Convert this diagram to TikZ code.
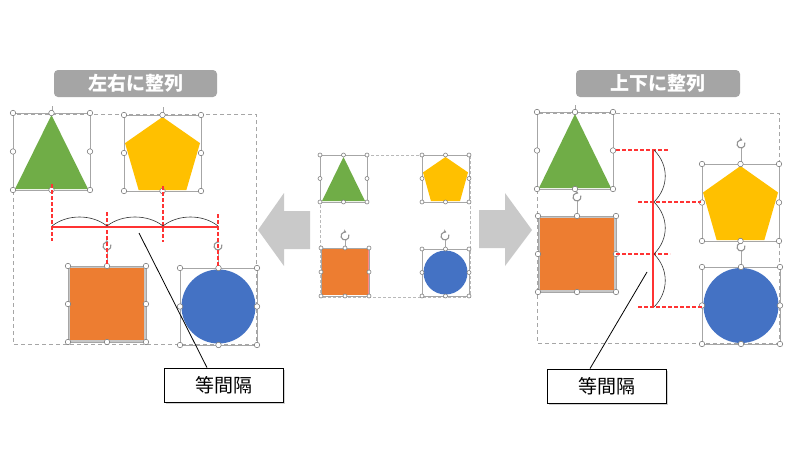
\documentclass[tikz,border=0pt]{standalone}
\usepackage{fontspec}
\newfontfamily\cjk{Noto Sans CJK JP}
\usetikzlibrary{arrows.meta,shadows,calc}
\definecolor{cgreen}{HTML}{70AD47}
\definecolor{cyellow}{HTML}{FFC000}
\definecolor{corange}{HTML}{ED7D31}
\definecolor{cblue}{HTML}{4472C4}
\definecolor{ctitle}{HTML}{A5A5A5}
\definecolor{carrow}{HTML}{C9C9C9}
\definecolor{csel}{HTML}{A6A6A6}
\definecolor{cred}{HTML}{FF3333}
\tikzset{
  selline/.style={draw=csel, line width=0.7pt},
  handle/.style={circle, draw=gray, fill=white, line width=0.6pt, inner sep=0pt},
  groupbox/.style={draw=gray!70, dashed, dash pattern=on 4pt off 3pt, line width=0.7pt},
  reddash/.style={draw=cred, line width=1.2pt, dash pattern=on 4pt off 2pt},
  redline/.style={draw=cred, line width=1.6pt},
  bracearc/.style={draw=black!80, line width=0.6pt},
  rotsym/.style={draw=gray!85, line width=1.1pt, -{Stealth[length=3pt,width=4pt]}},
  titlebox/.style={fill=ctitle, rounded corners=4pt, text=white, font=\cjk\bfseries\fontsize{19}{21}\selectfont, inner sep=0pt},
  callout/.style={draw=black, line width=0.8pt, fill=white, font=\cjk\fontsize{19}{21}\selectfont, inner sep=0pt, drop shadow={shadow xshift=1.5pt, shadow yshift=-1.5pt, fill=black!35}},
  blockarrow/.style={fill=carrow}
}
\newcommand\selbox[5]{%
  \pgfmathsetmacro\smx{(#1+#3)/2}\pgfmathsetmacro\smy{(#2+#4)/2}%
  \draw[selline] (#1,#2) rectangle (#3,#4);
  \foreach \px/\py in {#1/#2,\smx/#2,#3/#2,#1/\smy,#3/\smy,#1/#4,\smx/#4,#3/#4}
    \node[handle,minimum size=#5] at (\px,\py) {};
}
\newcommand\trishape[4]{\fill[cgreen] ({(#1+#3)/2},{#2+2}) -- ({#3-2},{#4-1}) -- ({#1+2},{#4-1}) -- cycle;}
\newcommand\pentshape[4]{\fill[cyellow] ({(#1+#3)/2},{#2+2}) -- ({#3-1},{#2+0.37*(#4-#2)}) -- ({#1+0.81*(#3-#1)},{#4-1}) -- ({#1+0.19*(#3-#1)},{#4-1}) -- ({#1+1},{#2+0.37*(#4-#2)}) -- cycle;}
\newcommand\sqshape[4]{\fill[corange, draw=gray!45, line width=1.2pt] ({#1+1},{#2+1}) rectangle ({#3-1},{#4-1});}
\newcommand\circshape[4]{\fill[cblue] ({(#1+#3)/2},{(#2+#4)/2}) circle[radius={(#3-#1)/2-1.5}];}
\newcommand\roticon[2]{\draw[rotsym] ([shift={(-20:4)}]#1,#2) arc[start angle=-20,end angle=290,radius=4];}
\begin{document}
\begin{tikzpicture}[x=1pt,y=-1pt]
\useasboundingbox (0,0) rectangle (800,450);
\fill[white] (0,0) rectangle (800,450);

% ---------- titles
\node[titlebox, minimum width=163pt, minimum height=27pt] (tL) at (135.5,83.5) {左右に整列};
\node[titlebox, minimum width=164pt, minimum height=27pt] (tR) at (658,83.5) {上下に整列};

% ---------- block arrows
\fill[blockarrow] (258,230) -- (284,193) -- (284,211) -- (310,211) -- (310,249) -- (284,249) -- (284,266) -- cycle;
\fill[blockarrow] (532,230) -- (505,193) -- (505,210) -- (479,210) -- (479,248) -- (505,248) -- (505,266) -- cycle;

% ================= LEFT PANEL
\draw[groupbox] (13,114) rectangle (256,344);
\draw[csel, line width=0.7pt] (52,106) -- (52,113);
\draw[csel, line width=0.7pt] (163,107) -- (163,115);
\trishape{13}{113}{90}{190}
\pentshape{124}{115}{201}{191}
\sqshape{68}{266}{146}{342}
\circshape{180}{268}{257}{345}
\draw[csel, line width=0.7pt] (107,250) -- (107,266);
\draw[csel, line width=0.7pt] (218,250) -- (218,268);
\roticon{107}{246}
\roticon{218}{246}
\selbox{13}{113}{90}{190}{5.5pt}
\selbox{124}{115}{201}{191}{5.5pt}
\selbox{68}{266}{146}{342}{5.5pt}
\selbox{180}{268}{257}{345}{5.5pt}
\draw[reddash] (52,184) -- (52,241);
\draw[reddash] (163,186) -- (163,242);
\draw[reddash] (107,212) -- (107,264);
\draw[reddash] (218,214) -- (218,266);
\draw[redline] (52,227) -- (218,227);
\draw[bracearc] (52,226) .. controls (67,214) and (92,214) .. (107,226);
\draw[bracearc] (107,226) .. controls (122,214) and (148,214) .. (163,226);
\draw[bracearc] (163,226) .. controls (178,214) and (203,214) .. (218,226);

\coordinate (pL) at (139,233);
\node[callout, minimum width=119pt, minimum height=34pt] (cL) at (223.5,385) {等間隔};
\draw[black, line width=0.8pt] (pL) -- (cL.north -| 207,0);

% ================= MIDDLE PANEL
\draw[groupbox, draw=gray!55, dash pattern=on 3pt off 2pt] (320,155) rectangle (470,297);
\trishape{320}{155}{367}{202}
\pentshape{422}{155}{469}{202}
\fill[corange] (322,249) rectangle (368,295);
\draw[cred!60, line width=0.6pt] (368.5,249) -- (368.5,295);
\circshape{422}{249}{469}{296}
\draw[csel, line width=0.6pt] (345,240) -- (345,248);
\draw[csel, line width=0.6pt] (445,240) -- (445,249);
\roticon{345}{236}
\roticon{445}{236}
\selbox{320}{155}{367}{202}{4pt}
\selbox{422}{155}{469}{202}{4pt}
\selbox{321}{248}{369}{296}{4pt}
\selbox{422}{249}{469}{296}{4pt}

% ================= RIGHT PANEL
\draw[groupbox] (537,113) rectangle (779,343);
\draw[csel, line width=0.7pt] (575,105) -- (575,112);
\trishape{537}{112}{613}{189}
\sqshape{538}{216}{616}{292}
\pentshape{702}{164}{779}{241}
\circshape{702}{267}{780}{344}
\draw[csel, line width=0.7pt] (577,201) -- (577,216);
\draw[csel, line width=0.7pt] (741,148) -- (741,164);
\draw[csel, line width=0.7pt] (741,251) -- (741,267);
\roticon{577}{197}
\roticon{741}{144}
\roticon{741}{247}
\selbox{537}{112}{613}{189}{5.5pt}
\selbox{538}{216}{616}{292}{5.5pt}
\selbox{702}{164}{779}{241}{5.5pt}
\selbox{702}{267}{780}{344}{5.5pt}
\draw[reddash] (616,150) -- (668,150);
\draw[reddash] (638,202) -- (701,202);
\draw[reddash] (616,254) -- (670,254);
\draw[reddash] (638,307) -- (702,307);
\draw[redline] (653,150) -- (653,307);
\draw[bracearc] (654,150) .. controls (669,165) and (669,187) .. (654,202);
\draw[bracearc] (654,202) .. controls (669,217) and (669,239) .. (654,254);
\draw[bracearc] (654,254) .. controls (669,269) and (669,292) .. (654,307);

\coordinate (pR) at (647,272);
\node[callout, minimum width=119pt, minimum height=34pt] (cR) at (606.5,386) {等間隔};
\draw[black, line width=0.8pt] (pR) -- (cR.north -| 590,0);
\end{tikzpicture}
\end{document}
